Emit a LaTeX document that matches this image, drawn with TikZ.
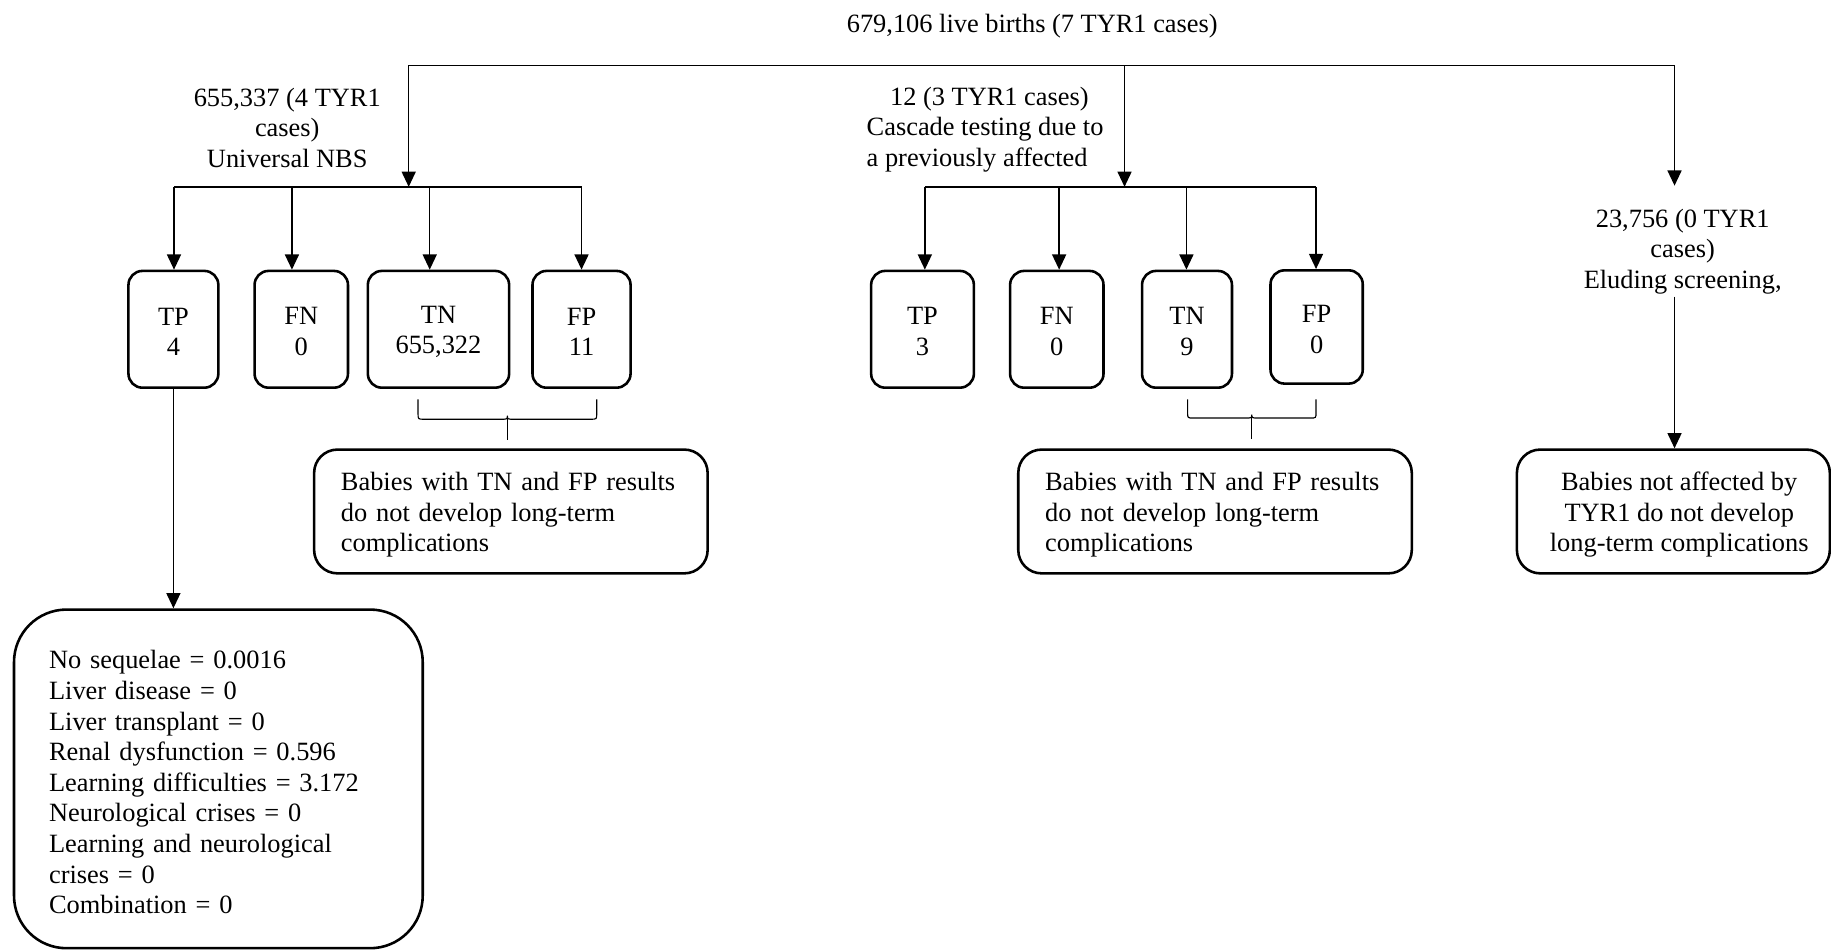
\documentclass[tikz,border=0pt]{standalone}
\usepackage{fontspec}
\setmainfont{Liberation Serif}
\usetikzlibrary{arrows.meta}

\tikzset{
  conn/.style={line width=1.2pt},
  arr/.style={conn, -{Triangle[length=13pt,width=12pt]}},
  box/.style={draw, line width=2.2pt, rounded corners=12pt, align=center, inner sep=0pt},
  notebox/.style={box, rounded corners=20pt, minimum height=106pt},
  lbl/.style={align=center, inner sep=0pt}
}

% extra head room on the first line of a box, to lower its text a little
\newcommand{\boxtop}[1]{\rule{0pt}{#1pt}}

% horizontal curly brace: x1, x2, top y, bar y, tip y
\newcommand{\tyrbrace}[5]{%
  \pgfmathsetmacro{\bcx}{(#1+#2)/2}%
  \draw[conn, line width=1pt] (#1,#3) -- (#1,#4-5) .. controls (#1,#4) .. (#1+5,#4)
    -- (\bcx-6,#4) .. controls (\bcx,#4) .. (\bcx,#4-3)
    .. controls (\bcx,#4) .. (\bcx+6,#4)
    -- (#2-5,#4) .. controls (#2,#4) .. (#2,#4-5) -- (#2,#3);
  \draw[conn, line width=1pt] (\bcx,#4-3) -- (\bcx,#5);
}

\begin{document}
\begin{tikzpicture}[x=1pt, y=-1pt, font=\fontsize{22.6}{26.2}\selectfont]
\useasboundingbox (0,0) rectangle (1568,814);

% root
\node[lbl] (title) at (884,22) {679,106 live births (7 TYR1 cases)};
\coordinate (topL) at (350,56);
\coordinate (topM) at (963,56);
\coordinate (topR) at (1434,56);
\draw[conn] (topL) -- (topR);

% ---------- universal NBS branch ----------
\node[lbl] (labL) at (246,109.5) {655,337 (4 TYR1\\cases)\\Universal NBS};
\coordinate (splitL) at (350,160);
\coordinate (aL1) at (149,160);
\coordinate (aL2) at (250,160);
\coordinate (aL3) at (368,160);
\coordinate (aL4) at (498,160);
\draw[arr] (topL) -- (splitL);
\draw[conn] (aL1) -- (aL4);

\node[box, minimum width=77pt,  minimum height=100pt] (tpL) at (148.5,282) {\boxtop{19}TP\\4};
\node[box, minimum width=80pt,  minimum height=100pt] (fnL) at (258,282)   {\boxtop{19}FN\\0};
\node[box, minimum width=121pt, minimum height=100pt] (tnL) at (375.5,282) {\boxtop{19}TN\\655,322};
\node[box, minimum width=84pt,  minimum height=100pt] (fpL) at (498,282)   {\boxtop{19}FP\\11};

\draw[arr] (aL1) -- (aL1 |- tpL.north);
\draw[arr] (aL2) -- (aL2 |- fnL.north);
\draw[arr] (aL3) -- (aL3 |- tnL.north);
\draw[arr] (aL4) -- (aL4 |- fpL.north);

\tyrbrace{358}{511}{342}{359}{377}
\node[notebox, minimum width=337pt, text width=291pt, align=left] (outL) at (437.5,438)
  {\boxtop{21.5}Babies with TN and FP results\\do not develop long-term\\complications};

\node[box, rounded corners=45pt, minimum width=350pt, minimum height=290pt,
      text width=290pt, align=left] (seq) at (187,667)
  {\boxtop{21.5}No sequelae = 0.0016\\
   Liver disease = 0\\
   Liver transplant = 0\\
   Renal dysfunction = 0.596\\
   Learning difficulties = 3.172\\
   Neurological crises = 0\\
   Learning and neurological\\
   crises = 0\\
   Combination = 0};
\draw[arr] (tpL.south) -- (tpL.south |- seq.north);

% ---------- cascade testing branch ----------
\node[lbl, align=left, anchor=west] (labM) at (742,111)
  {\hspace*{20pt}12 (3 TYR1 cases)\\Cascade testing due to\\a previously affected};
\coordinate (splitM) at (963,160);
\coordinate (aM1) at (792,160);
\coordinate (aM2) at (907,160);
\coordinate (aM3) at (1016,160);
\coordinate (aM4) at (1127,160);
\draw[arr] (topM) -- (splitM);
\draw[conn] (aM1) -- (aM4);

\node[box, minimum width=88pt, minimum height=100pt] (tpM) at (790,282)    {\boxtop{19}TP\\3};
\node[box, minimum width=80pt, minimum height=100pt] (fnM) at (905,282)    {\boxtop{19}FN\\0};
\node[box, minimum width=77pt, minimum height=100pt] (tnM) at (1016.5,282) {\boxtop{19}TN\\9};
\node[box, minimum width=79pt, minimum height=97pt]  (fpM) at (1127.5,280) {\boxtop{19}FP\\0};

\draw[arr] (aM1) -- (aM1 |- tpM.north);
\draw[arr] (aM2) -- (aM2 |- fnM.north);
\draw[arr] (aM3) -- (aM3 |- tnM.north);
\draw[arr] (aM4) -- (aM4 |- fpM.north);

\tyrbrace{1017}{1127}{342}{358}{376}
\node[notebox, minimum width=337pt, text width=291pt, align=left] (outM) at (1040.5,438)
  {\boxtop{21.5}Babies with TN and FP results\\do not develop long-term\\complications};

% ---------- eluding screening branch ----------
\coordinate (arrR) at (1434,159);
\draw[arr] (topR) -- (arrR);
\node[lbl] (labR) at (1441,215.5) {23,756 (0 TYR1\\cases)\\Eluding screening,};
\coordinate (srcR) at (1434,254);
\node[notebox, minimum width=268pt] (outR) at (1433,438)
  {\boxtop{21.5}\hspace*{10pt}Babies not affected by\\\hspace*{10pt}TYR1 do not develop\\\hspace*{10pt}long-term complications};
\draw[arr] (srcR) -- (srcR |- outR.north);

\end{tikzpicture}
\end{document}
